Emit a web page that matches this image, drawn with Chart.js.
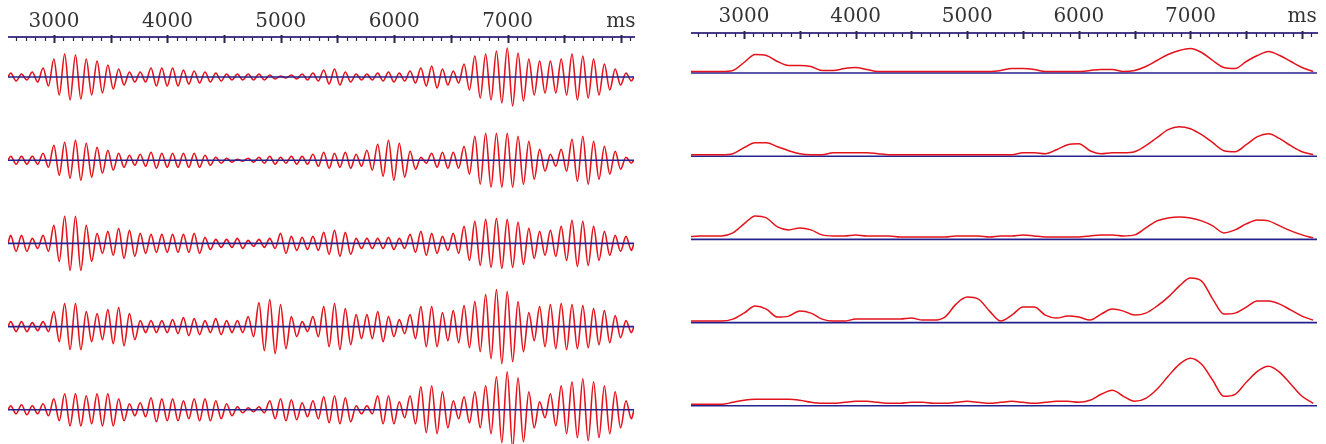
<!DOCTYPE html>
<html>
<head>
<meta charset="utf-8">
<script src="https://cdn.jsdelivr.net/npm/chart.js@4"></script>
<style>
  html, body { margin: 0; padding: 0; background: #fff; overflow: hidden; width: 1326px; height: 444px; }
  .panel { position: absolute; top: 0; width: 640px; height: 444px; }
  #left { left: 8px; }
  #right { left: 691px; }
</style>
</head>
<body>
<div class="panel" id="left"><canvas id="waveChart"></canvas></div>
<div class="panel" id="right"><canvas id="envChart"></canvas></div>
<script>
// AXIS
const TICK_VALUES = [3000, 4000, 5000, 6000, 7000, 8000];
const TICK_LABELS = ["3000", "4000", "5000", "6000", "7000", "ms"];
const MAJOR_STEP = 500;  // long tick marks
const MINOR_DIV = 6;     // small marks per major step

// LEFT PANEL: amplitude of each oscillation cycle (one value per cycle, ~95 ms)
const WAVE_START = 2594;
const WAVE_CYCLE = 95.2;
const wave1 = [4,3,5,9,18, 23,22,18,16,12, 8,5,5,9,9, 9,7,6,5,4, 3,3,3,3,2, 1,2,3,4,7, 8,5,3,3,4, 5,4,6,9,11, 8,6,13,21,23, 26,29,24,18,16, 16,18,23,21,18, 13,8,4];
const wave2 = [4,4,4,7,15, 18,20,17,13,10, 7,5,6,8,7, 7,7,7,5,3, 2,1,2,3,4, 3,4,4,6,8, 7,8,6,10,16, 20,17,9,3,7, 8,8,14,24,27, 27,27,24,19,11, 6,11,21,24,19, 14,9,3];
const wave3 = [8,8,5,8,18, 27,27,18,10,12, 15,13,10,9,9, 9,9,10,6,4, 4,5,3,4,5, 10,7,6,7,11, 13,11,5,5,5, 6,5,9,12,10, 7,10,17,22,24, 25,24,21,15,12, 13,17,23,22,17, 12,8,7];
const wave4 = [5,5,4,5,15, 23,23,15,13,17, 19,13,6,6,6, 7,9,8,6,8, 6,6,10,24,27, 22,10,5,10,20, 23,18,12,12,15, 10,7,12,20,20, 14,16,21,25,32, 37,35,25,14,20, 22,23,22,21,18, 16,11,6];
const wave5 = [4,5,4,6,11, 16,16,14,16,16, 11,6,7,12,11, 11,9,11,11,9, 6,3,2,3,9, 11,10,7,9,13, 14,12,4,4,14, 14,8,14,23,24, 18,9,13,18,24, 33,38,32,18,8, 16,24,28,31,28, 24,18,9];

// RIGHT PANEL: envelope height, sampled every 100 ms
const envTimes = [2500,2600,2700,2800,2900,3000,3100,3200,3300,3400,3500,3600,3700,3800,3900,4000,4100,4200,4300,4400,4500,4600,4700,4800,4900,5000,5100,5200,5300,5400,5500,5600,5700,5800,5900,6000,6100,6200,6300,6400,6500,6600,6700,6800,6900,7000,7100,7200,7300,7400,7500,7600,7700,7800,7900,8000,8100];
const env1 = [0,0,0,0,1, 9,17,16,10,6, 6,5,1,1,3, 4,2,0,0,0, 0,0,0,0,0, 0,0,0,1,3, 3,2,0,0,0, 0,1,2,2,0, 1,5,11,17,21, 23,19,11,4,3, 10,16,20,16,10, 4,0];
const env2 = [0,0,0,0,1, 7,12,12,8,4, 1,0,0,2,2, 2,2,1,0,0, 0,0,0,0,0, 0,0,0,0,0, 2,2,1,5,10, 11,4,1,2,2, 3,9,17,25,28, 26,20,12,4,3, 10,18,21,16,9, 3,0];
const env3 = [1,2,2,2,5, 14,22,20,11,8, 10,8,3,2,2, 3,2,2,2,1, 1,1,1,1,2, 2,2,1,2,2, 3,2,1,1,1, 1,2,3,3,2, 3,10,17,20,21, 20,17,12,5,8, 14,18,17,12,7, 3,0];
const env4 = [0,0,0,0,2, 8,15,12,4,5, 10,8,2,0,0, 2,2,2,2,2, 3,1,1,4,17, 24,22,10,0,6, 14,14,6,3,5, 4,1,7,12,10, 6,8,15,24,35, 43,40,22,7,8, 14,20,20,17,11, 5,1];
const env5 = [0,0,0,0,2, 4,5,5,5,5, 4,2,1,1,2, 3,3,2,1,1, 2,2,1,1,2, 3,2,1,2,3, 2,1,2,3,3, 2,4,10,14,8, 3,6,15,28,40, 46,40,24,8,10, 22,33,38,32,20, 8,1];

// STYLE
const RED = "#e3121b";
const BASE_BLUE = "#24228f";
const AXIS_COLOR = "#4a3a8c";
const TICK_COLOR = "#2a2450";
const ROW_TOP = 40;   // first baseline below the axis line
const ROW_GAP = 83.2; // distance between rows

// small tick marks hanging below the axis line
const tickMarks = {
  id: "tickMarks",
  afterDraw(chart) {
    const sc = chart.scales.x;
    const ctx = chart.ctx;
    const top = chart.chartArea.top;
    const step = MAJOR_STEP / MINOR_DIV;
    ctx.save();
    ctx.strokeStyle = TICK_COLOR;
    for (let n = Math.ceil((sc.min - 3000) / step); 3000 + n * step <= sc.max; n++) {
      const x = Math.round(sc.getPixelForValue(3000 + n * step)) + 0.5;
      const major = n % MINOR_DIV === 0;
      ctx.lineWidth = major ? 2 : 1.2;
      ctx.beginPath();
      ctx.moveTo(x, major ? top - 2 : top);
      ctx.lineTo(x, top + (major ? 6 : 4));
      ctx.stroke();
    }
    ctx.restore();
  }
};

function makeOptions(xMin, xMax, yMin, topPad, labelPad) {
  return {
    animation: false,
    responsive: true,
    maintainAspectRatio: false,
    layout: { padding: { top: topPad, right: 14, left: 0, bottom: 0 } },
    plugins: { legend: { display: false }, tooltip: { enabled: false } },
    elements: { point: { radius: 0 } },
    scales: {
      x: {
        type: "linear",
        position: "top",
        min: xMin,
        max: xMax,
        afterBuildTicks: s => { s.ticks = TICK_VALUES.map(v => ({ value: v })); },
        ticks: {
          callback: (v, i) => TICK_LABELS[i],
          padding: labelPad,
          color: "#333",
          font: { family: "DejaVu Serif", size: 20 },
          maxRotation: 0,
          autoSkip: false
        },
        grid: { display: true, drawOnChartArea: false, drawTicks: false },
        border: { display: true, color: AXIS_COLOR, width: 2 }
      },
      y: { display: false, min: yMin, max: 0 }
    }
  };
}

function baseLine(base, xMin, xMax, order) {
  return {
    data: [{ x: xMin, y: base }, { x: xMax, y: base }],
    borderColor: BASE_BLUE,
    borderWidth: 1.6,
    order: order
  };
}

// LEFT CHART
const L_MIN = 2594, L_MAX = 8115;
const leftSets = [];
[wave1, wave2, wave3, wave4, wave5].forEach((amps, i) => {
  const base = -(ROW_TOP + ROW_GAP * i);
  const pts = [{ x: L_MIN, y: base }];
  amps.forEach((a, k) => {
    pts.push({ x: WAVE_START + (k + 0.25) * WAVE_CYCLE, y: base + a });
    pts.push({ x: WAVE_START + (k + 0.75) * WAVE_CYCLE, y: base - a });
  });
  pts.push({ x: L_MAX, y: base });
  leftSets.push({
    data: pts,
    borderColor: RED,
    borderWidth: 1.6,
    cubicInterpolationMode: "monotone",
    order: 1
  });
  leftSets.push(baseLine(base, L_MIN, L_MAX, 0));
});

new Chart(document.getElementById("waveChart").getContext("2d"), {
  type: "line",
  data: { datasets: leftSets },
  options: makeOptions(L_MIN, L_MAX, -407, 7, 3),
  plugins: [tickMarks]
});

// RIGHT CHART
const R_MIN = 2525, R_MAX = 8134;
const rightSets = [];
[env1, env2, env3, env4, env5].forEach((vals, i) => {
  const base = -(ROW_TOP + ROW_GAP * i);
  rightSets.push({
    data: envTimes.map((t, j) => ({ x: t, y: base + 1.5 + vals[j] })),
    borderColor: RED,
    borderWidth: 1.5,
    cubicInterpolationMode: "monotone",
    order: 0
  });
  rightSets.push(baseLine(base, R_MIN, R_MAX, 1));
});

new Chart(document.getElementById("envChart").getContext("2d"), {
  type: "line",
  data: { datasets: rightSets },
  options: makeOptions(R_MIN, R_MAX, -411, 1, 4),
  plugins: [tickMarks]
});
</script>
</body>
</html>
